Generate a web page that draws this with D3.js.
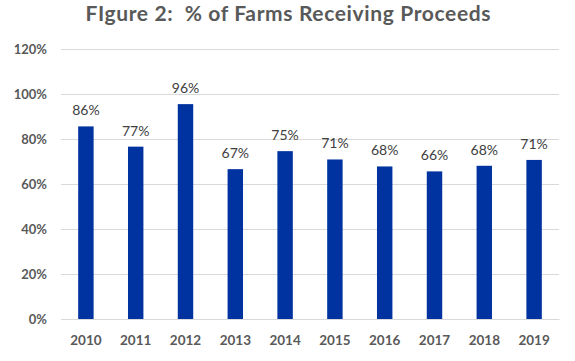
<!DOCTYPE html>
<html>
<head>
<meta charset="utf-8">
<script src="https://cdn.jsdelivr.net/npm/d3@7"></script>
<style>
  body { margin: 0; background: #fff; }
  svg { display: block; font-family: Lato, "Open Sans", sans-serif; }
</style>
</head>
<body>
<div id="container"></div>
<script>
// Data
const years = ["2010", "2011", "2012", "2013", "2014", "2015", "2016", "2017", "2018", "2019"];
const shares = [85.6, 76.6, 95.5, 66.6, 74.6, 70.9, 67.8, 65.6, 68.1, 70.7];
const yTicks = [0, 20, 40, 60, 80, 100, 120];

const width = 575;
const height = 361;
const marginTop = 49;
const marginRight = 16;
const marginBottom = 42;
const marginLeft = 61;

const svg = d3.create("svg").attr("width", width).attr("height", height);

const x = d3.scaleBand()
  .domain(years)
  .range([marginLeft, width - marginRight])
  .paddingInner(0.69)
  .paddingOuter(0.345);

const y = d3.scaleLinear()
  .domain([0, 120])
  .range([height - marginBottom, marginTop]);

// Title
svg.append("text")
  .attr("x", 288)
  .attr("y", 21)
  .attr("text-anchor", "middle")
  .attr("font-size", "21px")
  .attr("font-weight", "bold")
  .attr("fill", "#595959")
  .attr("textLength", 405)
  .attr("lengthAdjust", "spacing")
  .style("white-space", "pre")
  .text("FIgure 2:  % of Farms Receiving Proceeds");

// Gridlines
svg.append("g")
  .selectAll("line")
  .data(yTicks)
  .join("line")
  .attr("x1", marginLeft)
  .attr("x2", width - marginRight)
  .attr("y1", d => Math.round(y(d)) + 0.5)
  .attr("y2", d => Math.round(y(d)) + 0.5)
  .attr("stroke", "#d9d9d9")
  .attr("stroke-width", 1);

// Y axis labels
const yAxis = svg.append("g")
  .attr("transform", `translate(${marginLeft - 14},0)`)
  .call(d3.axisLeft(y).tickValues(yTicks).tickSize(0).tickFormat(d => d + "%"));
yAxis.select(".domain").remove();
yAxis.selectAll("text")
  .attr("x", 0)
  .attr("dy", "0.35em")
  .attr("font-family", "Lato, sans-serif")
  .attr("font-size", "13px")
  .attr("font-weight", "bold")
  .attr("fill", "#595959");

// Bars
svg.append("g")
  .selectAll("rect")
  .data(shares)
  .join("rect")
  .attr("x", (d, i) => x(years[i]))
  .attr("y", d => y(d))
  .attr("width", x.bandwidth())
  .attr("height", d => y(0) - y(d))
  .attr("fill", "#0033a0");

// Value labels
svg.append("g")
  .selectAll("text")
  .data(shares)
  .join("text")
  .attr("x", (d, i) => x(years[i]) + x.bandwidth() / 2)
  .attr("y", d => y(d) - 11)
  .attr("text-anchor", "middle")
  .attr("font-size", "14px")
  .attr("fill", "#404040")
  .text(d => Math.round(d) + "%");

// X axis
const xAxis = svg.append("g")
  .attr("transform", `translate(0,${y(0)})`)
  .call(d3.axisBottom(x).tickSize(0).tickPadding(16));
xAxis.select(".domain").attr("stroke", "#d9d9d9");
xAxis.selectAll("text")
  .attr("font-family", "Lato, sans-serif")
  .attr("font-size", "13.5px")
  .attr("font-weight", "bold")
  .attr("fill", "#595959");

document.getElementById("container").append(svg.node());
</script>
</body>
</html>
